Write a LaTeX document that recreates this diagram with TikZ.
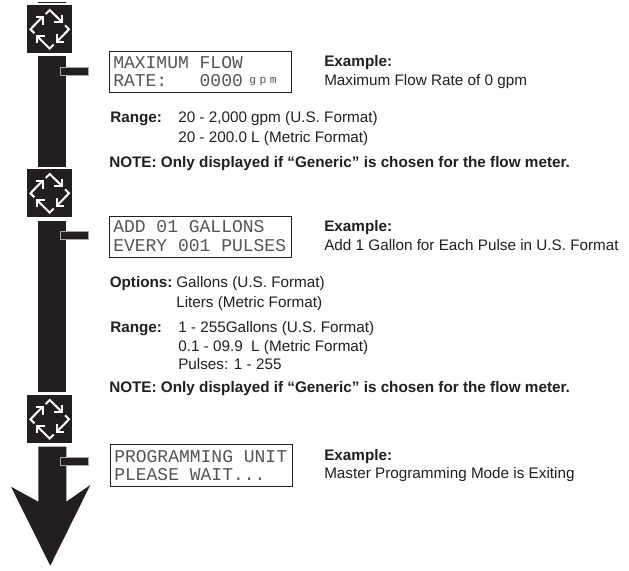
\documentclass[tikz,border=0pt]{standalone}
\usepackage{fontspec}
\setmainfont{Liberation Sans}
\newfontfamily\lcdfont{Liberation Mono}
\definecolor{ink}{HTML}{231F20}
\definecolor{lcdink}{HTML}{555555}
\tikzset{
  x=0.75pt,y=-0.75pt,
  bar/.style={fill=ink,draw=none},
  tabmark/.style={fill=ink,draw=black!35,line width=0.5pt},
  lcd/.style={draw=ink,line width=0.8pt,fill=white,minimum width=136.7pt,minimum height=31pt,anchor=north west,inner sep=0pt},
  lcdtext/.style={anchor=west,inner sep=0pt,text=lcdink,font=\lcdfont\fontsize{13.5}{13.5}\selectfont},
  lcdsmall/.style={lcdtext,font=\lcdfont\fontsize{8.5}{8.5}\selectfont},
  body/.style={anchor=base west,inner sep=0pt,text=ink,font=\fontsize{11.45}{13}\selectfont},
  bodyb/.style={body,font=\fontsize{11.45}{13}\selectfont\bfseries},
}
\newcommand{\cyc}[2]{%
 \fill[ink] (#1-22.4,#2-24) rectangle (#1+22.4,#2+24);
 \begin{scope}[shift={(#1,#2)}]
  \foreach \a in {0,90,180,270}{
   \begin{scope}[rotate=\a]
    \draw[white,line width=1.5pt,line join=miter] (-4,-15.3) -- (0,-19.3) -- (12.6,-7);
    \draw[white,line width=1.5pt,line join=miter] (12.6,-14) -- (12.6,-7) -- (4.6,-7);
   \end{scope}
  }
 \end{scope}}
\begin{document}
\begin{tikzpicture}
\useasboundingbox (0,0) rectangle (629,571);
\fill[white] (0,0) rectangle (629,571);
\draw[ink,line width=0.5pt] (38.3,2) -- (66.3,2);
\cyc{49.7}{29.3}
\cyc{49.7}{193.3}
\cyc{49.7}{419.3}
\fill[bar] (38.3,56) rectangle (66.3,166.7);
\fill[bar] (38.3,220.7) rectangle (66.3,392);
\fill[bar] (38.3,446.7) -- (66.3,446.7) -- (66.3,501.7) -- (90.3,485) -- (50.3,565.7) -- (11,486.7) -- (38.3,501.7) -- cycle;
\draw[tabmark] (60.7,66.9) rectangle (88.3,75);
\draw[tabmark] (60.7,231.2) rectangle (88.3,239.3);
\draw[tabmark] (60.7,457.7) rectangle (88.3,465.7);
\node[lcd] (l1) at (108.7,50.7) {};
\node[lcd] (l2) at (108.7,215.7) {};
\node[lcd] (l3) at (110,444.2) {};
\node[lcdtext] (t1a) at (113,63) {MAXIMUM FLOW};
\node[lcdtext] (t1b) at (113,81) {RATE:\ \ \ 0000};
\node[lcdsmall] (t1c) at (249,82) {g\kern2.6pt p\kern2.6pt m};
\node[lcdtext] (t2a) at (113,227) {ADD 01 GALLONS};
\node[lcdtext] (t2b) at (113,246) {EVERY 001 PULSES};
\node[lcdtext] (t3a) at (114,456.7) {PROGRAMMING UNIT};
\node[lcdtext] (t3b) at (114,474.5) {PLEASE WAIT...};
\node[bodyb] (e1) at (324,66.7) {Example:};
\node[body] (e1b) at (324,85) {Maximum Flow Rate of 0 gpm};
\node[bodyb] (r1) at (110,122) {Range:};
\node[body] (r1a) at (178,122) {20 - 2,000 gpm (U.S. Format)};
\node[body] (r1b) at (178,142) {20 - 200.0 L (Metric Format)};
\node[bodyb] (n1) at (109,167) {NOTE: Only displayed if “Generic” is chosen for the flow meter.};
\node[bodyb] (e2) at (324,231) {Example:};
\node[body] (e2b) at (324,250) {Add 1 Gallon for Each Pulse in U.S. Format};
\node[bodyb] (o) at (109.5,287) {Options:};
\node[body] (oa) at (176,287) {Gallons (U.S. Format)};
\node[body] (ob) at (176,307) {Liters (Metric Format)};
\node[bodyb] (r2) at (110,332) {Range:};
\node[body] (r2a) at (178,332) {1 - 255Gallons (U.S. Format)};
\node[body] (r2b) at (178,351) {0.1 - 09.9 \ L (Metric Format)};
\node[body] (r2c) at (178,369) {Pulses: 1 - 255};
\node[bodyb] (n2) at (109,392) {NOTE: Only displayed if “Generic” is chosen for the flow meter.};
\node[bodyb] (e3) at (324,460) {Example:};
\node[body] (e3b) at (324,478) {Master Programming Mode is Exiting};
\end{tikzpicture}
\end{document}
